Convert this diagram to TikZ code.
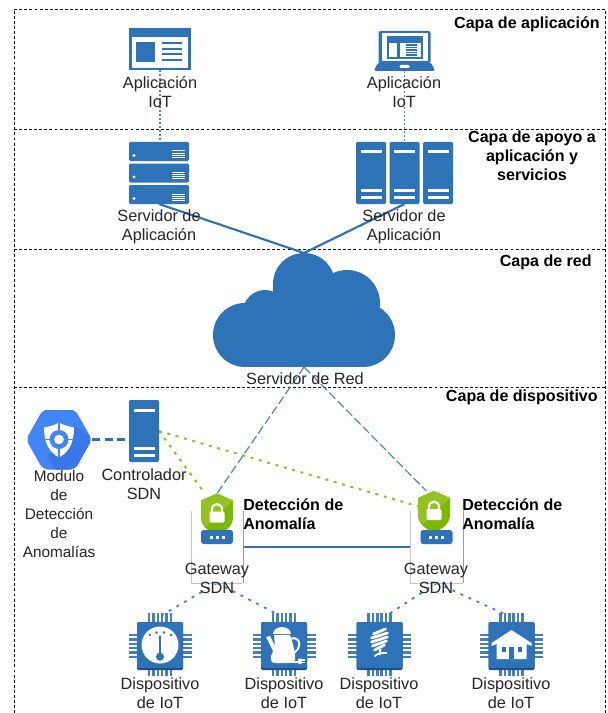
\documentclass[tikz,border=0pt]{standalone}
\usepackage{fontspec}
\setmainfont{Liberation Sans}
\definecolor{iotblue}{HTML}{2E72B8}
\definecolor{iotdark}{HTML}{1F4E80}
\definecolor{hexblue}{HTML}{4285F4}
\definecolor{hexdark}{HTML}{3B78E7}
\definecolor{lockgreen}{HTML}{7CB800}
\definecolor{locklight}{HTML}{93C320}
\definecolor{dotgreen}{HTML}{8DC21F}
\tikzset{
	lbl/.style={font=\fontsize{12.2}{14.25}\selectfont, align=center, inner sep=0pt, text=black!85},
	lblbold/.style={font=\fontsize{12.05}{14.25}\selectfont\bfseries, align=center, inner sep=0pt},
	hit/.style={inner sep=0pt, outer sep=0pt},
	layer/.style={dash pattern=on 2.2pt off 1.6pt, line width=.6pt, black},
	linkdot/.style={iotblue!85, dash pattern=on 1.4pt off 1.6pt, line width=1.4pt},
	linkchip/.style={iotblue!85, dash pattern=on 2.2pt off 4.4pt, line width=1.4pt},
	linksolid/.style={iotblue, line width=1.6pt},
	linkdash/.style={iotblue!85, dash pattern=on 6.5pt off 2.5pt, line width=.9pt},
	linkhex/.style={iotblue, dash pattern=on 6pt off 3.5pt, line width=1.6pt},
	linkgreen/.style={dotgreen, dash pattern=on 2.2pt off 4.3pt, line width=1.5pt},
	window/.pic={
		\fill[iotblue] (-31,-21) rectangle (31,21);
		\fill[white] (-28,-12) rectangle (28,19);
		\fill[iotblue] (-24,-7) rectangle (-5,13);
		\foreach \y in {-6,0,5,11}
			\fill[iotblue] (2,\y-1) rectangle (22,\y+1);
	},
	laptop/.pic={
		\fill[iotblue, rounded corners=1.5pt] (-26,-20) rectangle (26,12);
		\fill[white] (-23,-18) rectangle (23,10);
		\fill[iotblue] (-18,-15) rectangle (18,8);
		\fill[white] (-16,-8) rectangle (-8,6);
		\fill[white] (-5,-8) rectangle (16,6);
		\foreach \y in {-6,-3.5,-1,1.5,4}
			\fill[iotblue] (1,\y-.6) rectangle (12,\y+.6);
		\fill[iotblue, rounded corners=2pt] (-26,11) -- (26,11) -- (31,20) -- (-31,20) -- cycle;
		\fill[white, rounded corners=.8pt] (-5,14) rectangle (5,17);
	},
	srvunit/.pic={
		\fill[iotblue, rounded corners=1pt] (-30,-9.5) rectangle (30,9.5);
		\fill[white] (-25,4) circle (1.7);
		\foreach \y in {-.5,1.6,3.7,5.8}
			\fill[white] (13,\y-.5) rectangle (26,\y+.5);
	},
	srvcol/.pic={
		\fill[iotblue, rounded corners=1pt] (-15,-31) rectangle (15,31);
		\fill[white] (-10.5,-22.5) rectangle (10.5,-19.5);
		\fill[white] (-10.5,15.5) rectangle (10.5,18.5);
		\fill[white] (-10.5,22.5) rectangle (10.5,25.5);
	},
	cloudshape/.pic={
		\fill[iotblue] (-59,25) circle (32);
		\fill[iotblue] (59,25) circle (32);
		\fill[iotblue] (-39,2) circle (22);
		\fill[iotblue] (0,-26) circle (31);
		\fill[iotblue] (43,-7) circle (33);
		\fill[iotblue] (-59,0) rectangle (59,57);
		\fill[iotblue] (-31,-26) rectangle (40,0);
	},
	hexicon/.pic={
		\begin{scope}
			\clip[rounded corners=4pt] (-33,0) -- (-16,-30) -- (16,-30) -- (33,0) -- (16,30) -- (-16,30) -- cycle;
			\fill[hexblue] (-33,-30) rectangle (33,30);
			\fill[hexdark] (15,-14) -- (36,0) -- (20,32) -- (-2,32) -- (-12,17) -- cycle;
		\end{scope}
		\fill[white] (0,-17) .. controls (5,-14) and (10,-13) .. (15,-12) .. controls (15,2) and (11,12) .. (0,18) .. controls (-11,12) and (-15,2) .. (-15,-12) .. controls (-10,-13) and (-5,-14) .. (0,-17);
		\draw[hexblue, line width=1.3pt] (0,-17) -- (0,18) (-15,0) -- (15,0);
		\fill[hexblue] (0,0) circle (9.5);
		\fill[white] (0,0) circle (4.8);
	},
	shieldicon/.pic={
		\fill[lockgreen] (0,-21) -- (16,-14) -- (16,3) .. controls (16,12) and (8,17) .. (0,21) .. controls (-8,17) and (-16,12) .. (-16,3) -- (-16,-14) -- cycle;
		\fill[locklight] (0,-21) -- (-16,-14) -- (-16,3) .. controls (-16,6) and (-14,9) .. (-11,12) -- (16,-14) -- cycle;
		\draw[white, line width=1.6pt] (-5,-2) -- (-5,-5) .. controls (-5,-12) and (5,-12) .. (5,-5) -- (5,-2);
		\fill[white, rounded corners=1pt] (-7.5,-3) rectangle (7.5,8);
	},
	gwbase/.pic={
		\fill[iotblue, rounded corners=2pt] (-16,-7) rectangle (16,7);
		\foreach \x in {-6,0,6}
			\fill[white] (\x-1.5,-1.5) rectangle (\x+1.5,1.5);
	},
	chip/.pic={
		\foreach \i in {-5,-3,-1,1,3,5} {
			\draw[iotblue!90, line width=1.9pt] ({\i*2.2},-33) -- ({\i*2.2},-22);
			\draw[iotblue!90, line width=1.9pt] ({\i*2.2},22) -- ({\i*2.2},30);
			\draw[iotblue!90, line width=1.9pt] (-31.5,{\i*2.2}) -- (-22,{\i*2.2});
			\draw[iotblue!90, line width=1.9pt] (22,{\i*2.2}) -- (31.5,{\i*2.2});
		}
		\fill[iotdark, rounded corners=1pt] (-23,-24) rectangle (23,24);
		\fill[iotblue, rounded corners=1pt] (-23,-24) rectangle (23,22);
	},
	gaugeglyph/.pic={
		\fill[white] (0,-1) circle (18.5);
		\foreach \a/\b in {-10/-11,-3.5/-13.5,4/-13.5,11/-11}
			\fill[iotblue] (\a,\b) circle (1.4);
		\draw[iotblue, line width=1.5pt] (0,-10) -- (0,9);
		\fill[iotblue] (0,10.7) circle (4);
	},
	kettleglyph/.pic={
		\fill[white] (-2,-19) .. controls (-8,-19) and (-11,-15) .. (-11,-12) -- (7,-12) .. controls (7,-15) and (4,-19) .. (-2,-19);
		\fill[white] (-10,-11) -- (6,-11) .. controls (9,-2) and (12,8) .. (11,14) .. controls (10,17) and (7,17) .. (5,17) -- (-9,17) .. controls (-12,17) and (-14,14) .. (-13,10) .. controls (-12,8) and (-11,6) .. (-11,5) -- (-18,-9) -- (-14,-10) -- (-9,0) -- cycle;
		\draw[white, line width=1.5pt] (6,-7) .. controls (15,-10) and (17,-3) .. (14,3) -- (9,8);
		\draw[white, line width=1pt] (8,16) -- (15,16);
		\fill[white, rounded corners=.8pt] (14,12.5) rectangle (18,18);
		\draw[white, line width=.8pt] (18,14) -- (21,14) (18,16.5) -- (21,16.5);
	},
	bulbglyph/.pic={
		\foreach \y/\w in {-14.5/6,-10.5/8,-6.5/8,-2.5/7,1.5/5}
			\draw[white, line width=2.1pt, line cap=round] ({-\w},\y+2.5) -- ({\w},\y-2.5);
		\draw[white, line width=1.6pt] (1,3) -- (0,9);
		\draw[white, line width=1.4pt, line cap=round] (-4.5,10) .. controls (-2,7) and (3,7) .. (7,7);
	},
	houseglyph/.pic={
		\fill[white] (0,-16) -- (20,-3) -- (20,0) -- (15,-2) -- (15,13) -- (-15,13) -- (-15,-2) -- (-20,0) -- (-20,-3) -- cycle;
		\fill[iotblue] (-10,1) rectangle (-6,6);
		\fill[iotblue] (6,1) rectangle (10,6);
		\fill[iotblue] (-2.5,1) rectangle (2.5,13);
	}
}

\begin{document}
\begin{tikzpicture}[x=.75pt,y=-.75pt]
	\useasboundingbox (0,0) rectangle (607,713);
	\fill[white] (0,0) rectangle (607,713);

	\draw[layer] (14,713) -- (14,9) -- (605,9) -- (605,713);
	\draw[layer] (14,129) -- (605,129);
	\draw[layer] (14,249) -- (605,249);
	\draw[layer] (14,387) -- (605,387);

	\node[hit, minimum width=46.5pt, minimum height=31.5pt] (appA) at (160,49) {};
	\node[hit, minimum width=46.5pt, minimum height=30pt] (appB) at (404.5,51) {};
	\node[hit, minimum width=45pt, minimum height=46.5pt] (srvA) at (159,173) {};
	\node[hit, minimum width=73.5pt, minimum height=46.5pt] (srvB) at (404.5,173) {};
	\node[hit, minimum width=135pt, minimum height=85.5pt] (cloud) at (304,310) {};
	\node[hit, minimum width=49.5pt, minimum height=44.25pt] (modulo) at (59,439.5) {};
	\node[hit, minimum width=22.5pt, minimum height=46.5pt] (ctrl) at (144,431) {};
	\node[hit, minimum width=24pt, minimum height=31.5pt] (shieldA) at (217,514.5) {};
	\node[hit, minimum width=24pt, minimum height=31.5pt] (shieldB) at (434,512) {};
	\node[hit, minimum width=39pt, minimum height=54pt] (gwA) at (217,547) {};
	\node[hit, minimum width=39.75pt, minimum height=54pt] (gwB) at (436.5,547) {};
	\node[hit, minimum width=47pt, minimum height=47pt] (chipA) at (160,646) {};
	\node[hit, minimum width=47pt, minimum height=47pt] (chipB) at (284,646) {};
	\node[hit, minimum width=47pt, minimum height=47pt] (chipC) at (379.5,646) {};
	\node[hit, minimum width=47pt, minimum height=47pt] (chipD) at (511.5,646) {};

	\draw[linkdot] (appA.south) -- (appA.south |- srvA.north);
	\draw[linkdot] (appB.south) -- (appB.south |- srvB.north);
	\draw[linksolid] (srvA.south) -- (cloud.north);
	\draw[linksolid] (srvB.south) -- (cloud.north);
	\draw[linkdash] (cloud.south) -- (shieldA.north);
	\draw[linkdash] (cloud.south) -- (shieldB.110);
	\draw[linkhex] (modulo.east) -- (ctrl.west |- modulo.east);
	\draw[linkgreen] (ctrl.east) -- (shieldA.120);
	\draw[linkgreen] (ctrl.east) -- (shieldB.160);
	\draw[linksolid] (gwA.east) -- (gwB.west);
	\draw[linkchip] (gwA.south) -- (chipA.85);
	\draw[linkchip] (gwA.south) -- (chipB.100);
	\draw[linkchip] (gwB.south) -- (chipC.75);
	\draw[linkchip] (gwB.south) -- (chipD.100);

	\draw[black!22, line width=.7pt] (gwA.north west) -- (gwA.south west) -- (gwA.south east);
	\draw[black!38, line width=.7pt] (gwA.south east) -- (gwA.north east);
	\draw[black!22, line width=.7pt] (gwB.north west) -- (gwB.south west) -- (gwB.south east);
	\draw[black!38, line width=.7pt] (gwB.south east) -- (gwB.north east);

	\pic at (160,49) {window};
	\pic at (404.5,51) {laptop};
	\foreach \u in {151.5,173,194.5}
		\pic at (159,\u) {srvunit};
	\foreach \x in {371,404.5,438}
		\pic at (\x,173) {srvcol};
	\pic at (304,310) {cloudshape};
	\pic at (59,439.5) {hexicon};
	\pic at (144,431) {srvcol};
	\pic at (217,514.5) {shieldicon};
	\pic at (434,512) {shieldicon};
	\pic at (217,537) {gwbase};
	\pic at (436.5,537) {gwbase};
	\foreach \x in {160,284,379.5,511.5}
		\pic at (\x,646) {chip};
	\pic at (160,646) {gaugeglyph};
	\pic at (284,646) {kettleglyph};
	\pic at (379.5,646) {bulbglyph};
	\pic at (511.5,646) {houseglyph};

	\node[lblbold, anchor=east] (capaApp) at (600,24) {Capa de aplicación};
	\node[lblbold] (capaApoyo) at (532,156) {Capa de apoyo a\\aplicación y\\servicios};
	\node[lblbold, anchor=east] (capaRed) at (592,262) {Capa de red};
	\node[lblbold, anchor=east] (capaDisp) at (598,397) {Capa de dispositivo};

	\node[lbl] (lblAppA) at (160,92) {Aplicación\\IoT};
	\node[lbl] (lblAppB) at (404,92) {Aplicación\\IoT};
	\node[lbl] (lblSrvA) at (159,227) {Servidor de\\Aplicación};
	\node[lbl] (lblSrvB) at (404,227) {Servidor de\\Aplicación};
	\node[lbl] (lblRed) at (305,379) {Servidor de Red};
	\node[lbl, font=\fontsize{11.5}{14.25}\selectfont] (lblMod) at (59,514) {Modulo\\de\\Detección\\de\\Anomalías};
	\node[lbl] (lblCtrl) at (144,484) {Controlador\\SDN};
	\node[lblbold, align=left, anchor=west] (detA) at (243,514) {Detección de\\Anomalía};
	\node[lblbold, align=left, anchor=west] (detB) at (462,514) {Detección de\\Anomalía};
	\node[lbl] (lblGwA) at (217,578) {Gateway\\SDN};
	\node[lbl] (lblGwB) at (436,578) {Gateway\\SDN};
	\node[lbl] (lblChipA) at (160,693) {Dispositivo\\de IoT};
	\node[lbl] (lblChipB) at (284,693) {Dispositivo\\de IoT};
	\node[lbl] (lblChipC) at (379,693) {Dispositivo\\de IoT};
	\node[lbl] (lblChipD) at (511,693) {Dispositivo\\de IoT};
\end{tikzpicture}
\end{document}
